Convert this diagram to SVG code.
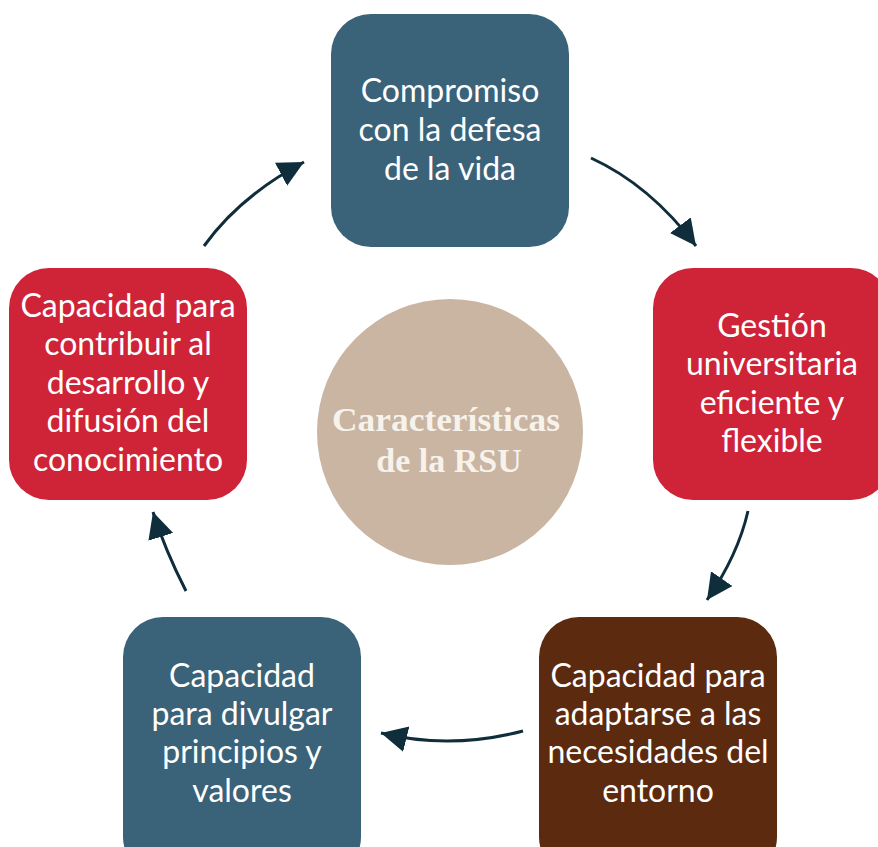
<svg xmlns="http://www.w3.org/2000/svg" width="878" height="847" viewBox="0 0 878 847">
<defs>
<style>
.blue{fill:#3a6279}
.red{fill:#cf2338}
.brown{fill:#5b2a0f}
.lbl{font-family:Lato,"Open Sans",sans-serif;font-size:32px;fill:#ffffff;text-anchor:middle}
.ctr{font-family:"Liberation Serif","DejaVu Serif",serif;font-weight:bold;font-size:34px;fill:#f7f2ec;text-anchor:middle}
.arr{fill:none;stroke:#0f2d3a;stroke-width:3}
</style>
<marker id="ah" markerUnits="userSpaceOnUse" markerWidth="28" markerHeight="28" refX="26" refY="13" orient="auto" viewBox="0 0 28 28">
<path d="M0,0 L26,13 L0,26 z" fill="#0f2d3a"/>
</marker>
</defs>
<rect width="878" height="847" fill="#ffffff"/>
<g id="center">
<circle cx="450" cy="432" r="133" fill="#c9b5a1"/>
<text class="ctr" x="446" y="431" textLength="228" lengthAdjust="spacingAndGlyphs">Características</text>
<text class="ctr" x="449" y="472">de la RSU</text>
</g>
<g id="node-top">
<rect class="blue" x="331" y="14" width="238" height="233" rx="40"/>
<text class="lbl" x="450" y="102">Compromiso</text>
<text class="lbl" x="450" y="141">con la defesa</text>
<text class="lbl" x="450" y="180">de la vida</text>
</g>
<g id="node-right">
<rect class="red" x="653" y="268" width="238" height="232" rx="40"/>
<text class="lbl" x="772" y="337">Gestión</text>
<text class="lbl" x="772" y="375">universitaria</text>
<text class="lbl" x="772" y="414">eficiente y</text>
<text class="lbl" x="772" y="452">flexible</text>
</g>
<g id="node-bottom-right">
<rect class="brown" x="539" y="617" width="238" height="260" rx="40"/>
<text class="lbl" x="658" y="687">Capacidad para</text>
<text class="lbl" x="658" y="725">adaptarse a las</text>
<text class="lbl" x="658" y="763">necesidades del</text>
<text class="lbl" x="658" y="802">entorno</text>
</g>
<g id="node-bottom-left">
<rect class="blue" x="123" y="617" width="238" height="260" rx="40"/>
<text class="lbl" x="242" y="687">Capacidad</text>
<text class="lbl" x="242" y="725">para divulgar</text>
<text class="lbl" x="242" y="763">principios y</text>
<text class="lbl" x="242" y="802">valores</text>
</g>
<g id="node-left">
<rect class="red" x="9" y="268" width="238" height="232" rx="40"/>
<text class="lbl" x="128" y="317">Capacidad para</text>
<text class="lbl" x="128" y="355">contribuir al</text>
<text class="lbl" x="128" y="394">desarrollo y</text>
<text class="lbl" x="128" y="432">difusión del</text>
<text class="lbl" x="128" y="471">conocimiento</text>
</g>
<g id="connectors">
<path class="arr" d="M204,246 Q240,196 304,162" marker-end="url(#ah)"/>
<path class="arr" d="M591,158 Q650,185 696,246" marker-end="url(#ah)"/>
<path class="arr" d="M748,511 Q738,555 707,600" marker-end="url(#ah)"/>
<path class="arr" d="M523,731 Q450,750 381,733" marker-end="url(#ah)"/>
<path class="arr" d="M186,591 Q165,550 153,512" marker-end="url(#ah)"/>
</g>
</svg>
